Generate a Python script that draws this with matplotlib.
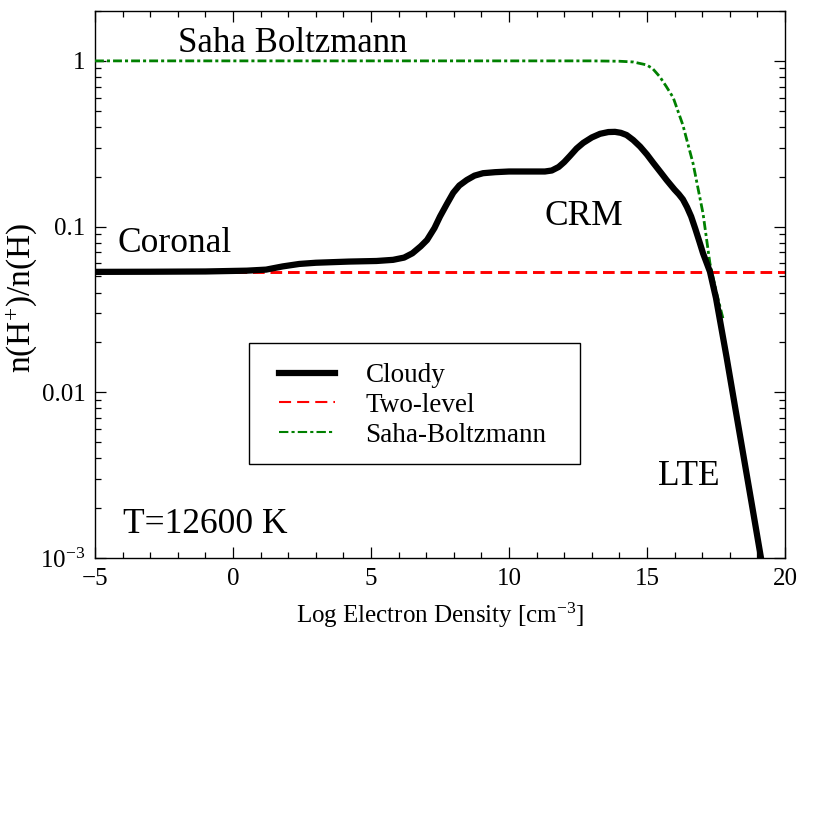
import matplotlib
matplotlib.use("Agg")
import matplotlib.pyplot as plt
from matplotlib.ticker import FixedLocator, LogLocator, MultipleLocator, FuncFormatter, NullFormatter
from matplotlib.lines import Line2D
from matplotlib.patches import Rectangle
import numpy as np

plt.rcParams['font.family'] = ['Liberation Serif', 'DejaVu Serif']
plt.rcParams['mathtext.fontset'] = 'custom'
plt.rcParams['mathtext.rm'] = 'Liberation Serif'
plt.rcParams['mathtext.it'] = 'Liberation Serif:italic'

# Cloudy curve
cloudy_x = [-5, -3, -1, 0.5, 1.2, 1.8, 2.4, 3.0, 4.2, 5.2, 5.8, 6.2, 6.5, 6.8,
            7.03, 7.3, 7.5, 7.75, 7.98, 8.2, 8.47, 8.75, 9.06, 9.5, 10.0, 10.76,
            11.3, 11.55, 11.8, 12.0, 12.2, 12.45, 12.69, 13.0, 13.3, 13.6, 13.84,
            14.05, 14.26, 14.5, 14.75, 15.0, 15.23, 15.5, 15.71, 16.0, 16.15,
            16.3, 16.45, 16.6, 16.75, 16.9, 17.03, 17.28, 17.5, 17.88, 18.2,
            18.5, 18.8, 19.13, 19.4]
cloudy_y = [0.0533, 0.0534, 0.0536, 0.0542, 0.0550, 0.0575, 0.0595, 0.0605,
            0.0615, 0.0620, 0.0630, 0.0650, 0.0690, 0.0760, 0.0830, 0.0980,
            0.115, 0.137, 0.160, 0.177, 0.191, 0.203, 0.210, 0.213, 0.215, 0.215,
            0.215, 0.218, 0.229, 0.245, 0.266, 0.296, 0.320, 0.345, 0.363, 0.372,
            0.373, 0.368, 0.357, 0.333, 0.304, 0.272, 0.242, 0.212, 0.191, 0.167,
            0.157, 0.146, 0.131, 0.115, 0.097, 0.081, 0.069, 0.0535, 0.037,
            0.0164, 0.0080, 0.0041, 0.0021, 0.0010, 0.00055]

# Two-level approximation
twolevel_x = [-5, 20]
twolevel_y = [0.0532, 0.0532]

# Saha-Boltzmann
saha_x = [-5, 0, 5, 10, 13, 14, 14.5, 14.98, 15.2, 15.47, 15.7, 15.95, 16.3,
          16.67, 17.03, 17.28, 17.5, 17.75]
saha_y = [1.0, 1.0, 1.0, 1.0, 1.0, 0.995, 0.985, 0.946, 0.90, 0.80, 0.70, 0.60,
          0.41, 0.24, 0.12, 0.060, 0.041, 0.028]

y_major = [1e-3, 1e-2, 1e-1, 1]
y_labels = [r'$10^{-3}$', '0.01', '0.1', '1']

fig = plt.figure(figsize=(8.3, 8.3), dpi=100)
ax = fig.add_axes([95 / 830, 1 - 558 / 830, 690 / 830, 547 / 830])

red_dash = (4.0, 2.0)
green_dash = (3.2, 1.1, 1.1, 1.1)
ax.plot(twolevel_x, twolevel_y, color='red', lw=2.1, dashes=red_dash, zorder=2)
ax.plot(saha_x, saha_y, color='green', lw=2.0, dashes=green_dash, zorder=3)
ax.plot(cloudy_x, cloudy_y, color='black', lw=4.5, solid_joinstyle='round',
        solid_capstyle='butt', zorder=4)

ax.set_yscale('log')
ax.set_xlim(-5, 20)
ax.set_ylim(1e-3, 2.0)

ax.xaxis.set_major_locator(MultipleLocator(5))
ax.xaxis.set_minor_locator(MultipleLocator(1))
ax.yaxis.set_major_locator(FixedLocator(y_major))
ax.yaxis.set_major_formatter(FuncFormatter(lambda v, p: y_labels[y_major.index(v)] if v in y_major else ''))
ax.yaxis.set_minor_locator(LogLocator(base=10, subs=np.arange(2, 10)))
ax.yaxis.set_minor_formatter(NullFormatter())

ax.tick_params(which='both', direction='in', top=True, right=True, width=0.9,
               labelsize=18, pad=7)
ax.tick_params(which='major', length=8)
ax.tick_params(which='minor', length=4.5)
for s in ax.spines.values():
    s.set_linewidth(1.0)

ax.set_xlabel(r'Log Electron Density [cm$^{-3}$]', fontsize=18, labelpad=8)
ax.set_ylabel(r'n(H$^{+}$)/n(H)', fontsize=24)
ax.yaxis.set_label_coords(-0.081, 0.475)

ax.text(-1.99, 1.133, 'Saha Boltzmann', fontsize=25, ha='left', va='baseline')
ax.text(-4.17, 0.0703, 'Coronal', fontsize=25.5, ha='left', va='baseline')
ax.text(11.27, 0.102, 'CRM', fontsize=25.5, ha='left', va='baseline')
ax.text(15.4, 0.00276, 'LTE', fontsize=25.5, ha='left', va='baseline')
ax.text(-3.99, 0.00142, 'T=12600 K', fontsize=25.5, ha='left', va='baseline')

# legend box drawn separately so the padding matches
ax.add_patch(Rectangle((249 / 830, 1 - 464 / 830), 331 / 830, 121 / 830,
                       transform=fig.transFigure, facecolor='white',
                       edgecolor='black', lw=1.0, zorder=5, clip_on=False))
handles = [Line2D([], [], color='black', lw=4.5),
           Line2D([], [], color='red', lw=1.5, dashes=(5.8, 2.9)),
           Line2D([], [], color='green', lw=1.5, dashes=(4.5, 1.5, 1.5, 1.5))]
labels = ['Cloudy', 'Two-level', 'Saha-Boltzmann']
leg = ax.legend(handles, labels, loc='upper left',
                bbox_to_anchor=(279 / 830, 1 - 363 / 830),
                bbox_transform=fig.transFigure, fontsize=19.5, frameon=False,
                handlelength=2.07, handletextpad=1.12, labelspacing=0.18,
                borderpad=0, borderaxespad=0)
leg.set_zorder(6)

fig.savefig('out.png', dpi=100)
